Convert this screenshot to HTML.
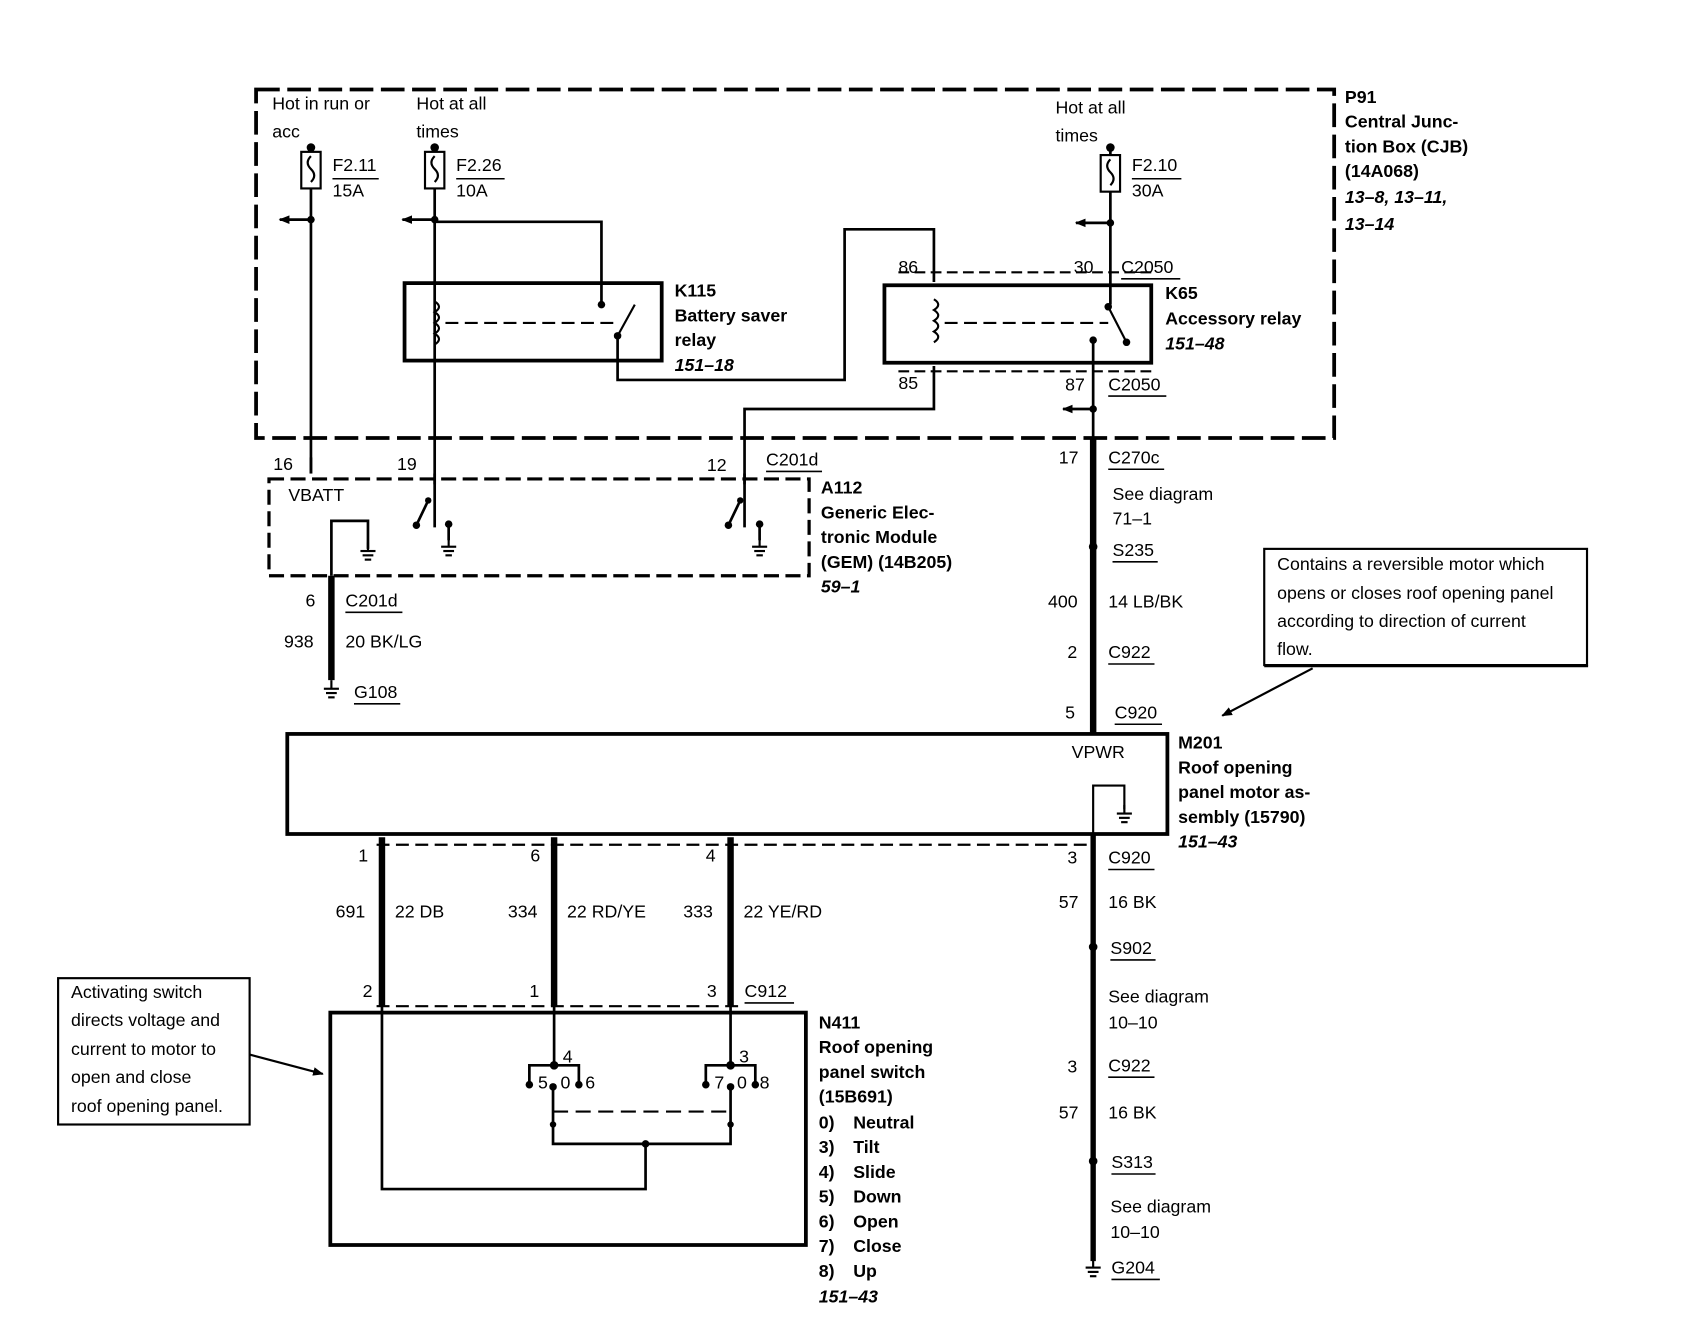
<!DOCTYPE html>
<html><head><meta charset="utf-8"><style>
html,body{margin:0;padding:0;background:#fff;}
svg{display:block;}
text{font-family:"Liberation Sans",Arial,sans-serif;font-size:16.5px;fill:#000;dominant-baseline:central;}
.b{font-weight:bold;}
.i{font-weight:bold;font-style:italic;}
</style></head><body>
<svg width="1686" height="1328" viewBox="0 0 1567 1234" xmlns="http://www.w3.org/2000/svg">
<defs>
<marker id="ah" markerWidth="10" markerHeight="10" refX="9" refY="5" orient="auto" markerUnits="userSpaceOnUse"><path d="M0,1 L10,5 L0,9 Z" fill="#000"/></marker>
<g id="gnd"><line x1="0" y1="-8" x2="0" y2="0" stroke="#000" stroke-width="2"/><line x1="-7" y1="0" x2="7" y2="0" stroke="#000" stroke-width="2"/><line x1="-5" y1="4" x2="5" y2="4" stroke="#000" stroke-width="2"/><line x1="-3" y1="8" x2="3" y2="8" stroke="#000" stroke-width="2"/></g>
</defs>
<g fill="none" stroke="#000">
<rect x="238" y="83" width="1002" height="324" stroke-width="3.5" stroke-dasharray="22,7"/>
<g stroke-width="2">
<rect x="280" y="141" width="18" height="34"/><path d="M289,145 q-6,6 0,12 q6,6 0,12"/>
<rect x="395" y="141" width="18" height="34"/><path d="M404,145 q-6,6 0,12 q6,6 0,12"/>
<rect x="1023" y="144" width="18" height="34"/><path d="M1032,148 q-6,6 0,12 q6,6 0,12"/>
</g>
<g stroke-width="2.5">
<line x1="289" y1="137" x2="289" y2="141"/><line x1="289" y1="175" x2="289" y2="440"/>
<line x1="289" y1="204" x2="260" y2="204" marker-end="url(#ah)"/>
<line x1="404" y1="137" x2="404" y2="141"/><line x1="404" y1="175" x2="404" y2="490"/>
<line x1="404" y1="204" x2="374" y2="204" marker-end="url(#ah)"/>
<polyline points="404,206 559,206 559,283"/>
<line x1="1032" y1="137" x2="1032" y2="144"/><line x1="1032" y1="178" x2="1032" y2="283"/>
<line x1="1032" y1="207" x2="1000" y2="207" marker-end="url(#ah)"/>
<polyline points="574,312 574,353 785,353 785,213 868,213 868,262"/>
<polyline points="868,340 868,380 692,380 692,490"/>
<line x1="1016" y1="316" x2="1016" y2="410"/>
<line x1="1016" y1="380" x2="988" y2="380" marker-end="url(#ah)"/>
<line x1="289" y1="425" x2="289" y2="440"/>
</g>
<rect x="376" y="263" width="239" height="72" stroke-width="3.5"/>
<rect x="822" y="265" width="248" height="72" stroke-width="3.5"/>
<g stroke-width="2">
<path d="M404,280 q8,5 0,10 q8,5 0,10 q8,5 0,10 q8,5 0,10"/>
<path d="M868,278 q8,5 0,10 q8,5 0,10 q8,5 0,10 q8,5 0,10"/>
<line x1="414" y1="300" x2="570" y2="300" stroke-dasharray="12,6"/>
<line x1="878" y1="300" x2="1030" y2="300" stroke-dasharray="12,6"/>
<line x1="574" y1="312" x2="590" y2="283"/>
<line x1="1030" y1="285" x2="1047" y2="318"/>
<line x1="835" y1="253" x2="1070" y2="253" stroke-dasharray="10,5"/>
<line x1="835" y1="345" x2="1070" y2="345" stroke-dasharray="10,5"/>
</g>
<rect x="250" y="445" width="502" height="90" stroke-width="3" stroke-dasharray="14,6"/>
<g stroke-width="2.5">
<line x1="404" y1="440" x2="404" y2="450"/>
<line x1="692" y1="440" x2="692" y2="450"/>
<line x1="398" y1="465" x2="387" y2="488"/>
<line x1="688" y1="465" x2="677" y2="488"/>
<polyline points="308,535 308,484 342,484 342,510"/>
<line x1="417" y1="487" x2="417" y2="502"/>
<line x1="706" y1="487" x2="706" y2="502"/>
</g>
<line x1="308" y1="535" x2="308" y2="632" stroke-width="6"/>
<line x1="1016" y1="407" x2="1016" y2="682" stroke-width="6"/>
<line x1="1016" y1="775" x2="1016" y2="1172" stroke-width="5"/>
<rect x="1175" y="510" width="300" height="108" stroke-width="2"/>
<line x1="1175" y1="619" x2="1476" y2="619" stroke-width="2"/>
<line x1="1220" y1="621" x2="1136" y2="665" stroke-width="2" marker-end="url(#ah)"/>
<rect x="267" y="682" width="818" height="93" stroke-width="3.5"/>
<polyline points="1016,775 1016,730 1045,730 1045,752" stroke-width="2"/>
<line x1="350" y1="785" x2="1016" y2="785" stroke-width="2" stroke-dasharray="12,6"/>
<line x1="355" y1="778" x2="355" y2="935" stroke-width="6"/>
<line x1="515" y1="778" x2="515" y2="935" stroke-width="6"/>
<line x1="679" y1="778" x2="679" y2="935" stroke-width="6"/>
<line x1="350" y1="935" x2="690" y2="935" stroke-width="2" stroke-dasharray="12,6"/>
<rect x="307" y="941" width="442" height="216" stroke-width="3.5"/>
<g stroke-width="2.5">
<polyline points="355,935 355,1105 600,1105 600,1063"/>
<line x1="515" y1="935" x2="515" y2="990"/>
<line x1="679" y1="935" x2="679" y2="990"/>
<polyline points="492,1008 492,990 538,990 538,1008"/>
<polyline points="656,1008 656,990 702,990 702,1008"/>
<polyline points="514,1012 514,1063 679,1063 679,1012"/>
<line x1="514" y1="1033" x2="679" y2="1033" stroke-dasharray="14,7" stroke-width="2"/>
</g>
<rect x="54" y="909" width="178" height="136" stroke-width="2"/>
<line x1="232" y1="980" x2="300" y2="998" stroke-width="2" marker-end="url(#ah)"/>
<g stroke-width="1.5">
<line x1="309" y1="166" x2="352" y2="166"/><line x1="424" y1="166" x2="469" y2="166"/><line x1="1052" y1="166" x2="1098" y2="166"/>
<line x1="1042" y1="259" x2="1097" y2="259"/><line x1="1030" y1="368" x2="1084" y2="368"/>
<line x1="712" y1="438" x2="764" y2="438"/><line x1="321" y1="569" x2="374" y2="569"/><line x1="329" y1="654" x2="372" y2="654"/>
<line x1="1030" y1="436" x2="1082" y2="436"/><line x1="1034" y1="522" x2="1076" y2="522"/><line x1="1030" y1="617" x2="1073" y2="617"/>
<line x1="1036" y1="673" x2="1080" y2="673"/><line x1="1030" y1="808" x2="1073" y2="808"/><line x1="1032" y1="892" x2="1074" y2="892"/>
<line x1="1030" y1="1001" x2="1073" y2="1001"/><line x1="1033" y1="1091" x2="1074" y2="1091"/><line x1="1033" y1="1189" x2="1078" y2="1189"/>
<line x1="692" y1="932" x2="738" y2="932"/>
</g>
</g>
<g fill="#000">
<circle cx="289" cy="137" r="4"/><circle cx="404" cy="137" r="4"/><circle cx="1032" cy="137" r="4"/>
<circle cx="289" cy="204" r="3.5"/><circle cx="404" cy="204" r="3.5"/><circle cx="1032" cy="207" r="3.5"/><circle cx="1016" cy="380" r="3.5"/>
<circle cx="559" cy="283" r="3.5"/><circle cx="574" cy="312" r="3.5"/><circle cx="1016" cy="316" r="3.5"/><circle cx="1047" cy="318" r="3.5"/><circle cx="1030" cy="285" r="3.5"/>
<circle cx="387" cy="488" r="3.5"/><circle cx="677" cy="488" r="3.5"/><circle cx="398" cy="465" r="3"/><circle cx="688" cy="465" r="3"/>
<circle cx="417" cy="487" r="3.5"/><circle cx="706" cy="487" r="3.5"/>
<circle cx="1016" cy="508" r="4"/><circle cx="1016" cy="880" r="4"/><circle cx="1016" cy="1079" r="4"/>
<circle cx="515" cy="990" r="4"/><circle cx="679" cy="990" r="4"/>
<circle cx="492" cy="1008" r="3.5"/><circle cx="514" cy="1010" r="3.5"/><circle cx="538" cy="1008" r="3.5"/>
<circle cx="656" cy="1008" r="3.5"/><circle cx="679" cy="1010" r="3.5"/><circle cx="702" cy="1008" r="3.5"/>
<circle cx="514" cy="1045" r="3"/><circle cx="679" cy="1045" r="3"/><circle cx="600" cy="1063" r="3.5"/>
</g>
<use href="#gnd" x="342" y="512"/><use href="#gnd" x="417" y="508"/><use href="#gnd" x="706" y="508"/>
<use href="#gnd" x="308" y="640"/><use href="#gnd" x="1045" y="756"/><use href="#gnd" x="1016" y="1178"/>
<text x="253" y="96">Hot in run or</text><text x="253" y="122">acc</text>
<text x="387" y="96">Hot at all</text><text x="387" y="122">times</text>
<text x="981" y="100">Hot at all</text><text x="981" y="126">times</text>
<text x="309" y="153">F2.11</text><text x="309" y="177">15A</text>
<text x="424" y="153">F2.26</text><text x="424" y="177">10A</text>
<text x="1052" y="153">F2.10</text><text x="1052" y="177">30A</text>
<text class="b" x="1250" y="90">P91</text><text class="b" x="1250" y="113">Central Junc-</text><text class="b" x="1250" y="136">tion Box (CJB)</text><text class="b" x="1250" y="159">(14A068)</text><text class="i" x="1250" y="183">13–8, 13–11,</text><text class="i" x="1250" y="208">13–14</text>
<text class="b" x="627" y="270">K115</text><text class="b" x="627" y="293">Battery saver</text><text class="b" x="627" y="316">relay</text><text class="i" x="627" y="339">151–18</text>
<text class="b" x="1083" y="272">K65</text><text class="b" x="1083" y="296">Accessory relay</text><text class="i" x="1083" y="319">151–48</text>
<text x="835" y="248">86</text><text x="835" y="356">85</text>
<text x="998" y="248">30</text><text x="1042" y="248">C2050</text>
<text x="990" y="357">87</text><text x="1030" y="357">C2050</text>
<text x="254" y="431">16</text><text x="369" y="431">19</text><text x="657" y="432">12</text><text x="712" y="427">C201d</text>
<text x="268" y="460">VBATT</text>
<text class="b" x="763" y="453">A112</text><text class="b" x="763" y="476">Generic Elec-</text><text class="b" x="763" y="499">tronic Module</text><text class="b" x="763" y="522">(GEM) (14B205)</text><text class="i" x="763" y="545">59–1</text>
<text x="284" y="558">6</text><text x="321" y="558">C201d</text><text x="264" y="596">938</text><text x="321" y="596">20 BK/LG</text><text x="329" y="643">G108</text>
<text x="984" y="425">17</text><text x="1030" y="425">C270c</text>
<text x="1034" y="459">See diagram</text><text x="1034" y="482">71–1</text><text x="1034" y="511">S235</text>
<text x="974" y="559">400</text><text x="1030" y="559">14 LB/BK</text>
<text x="992" y="606">2</text><text x="1030" y="606">C922</text>
<text x="990" y="662">5</text><text x="1036" y="662">C920</text>
<text x="1187" y="524">Contains a reversible motor which</text><text x="1187" y="551">opens or closes roof opening panel</text><text x="1187" y="577">according to direction of current</text><text x="1187" y="603">flow.</text>
<text x="996" y="699">VPWR</text>
<text class="b" x="1095" y="690">M201</text><text class="b" x="1095" y="713">Roof opening</text><text class="b" x="1095" y="736">panel motor as-</text><text class="b" x="1095" y="759">sembly (15790)</text><text class="i" x="1095" y="782">151–43</text>
<text x="333" y="795">1</text><text x="493" y="795">6</text><text x="656" y="795">4</text>
<text x="312" y="847">691</text><text x="367" y="847">22 DB</text><text x="472" y="847">334</text><text x="527" y="847">22 RD/YE</text><text x="635" y="847">333</text><text x="691" y="847">22 YE/RD</text>
<text x="337" y="921">2</text><text x="492" y="921">1</text><text x="657" y="921">3</text><text x="692" y="921">C912</text>
<text x="992" y="797">3</text><text x="1030" y="797">C920</text>
<text x="984" y="838">57</text><text x="1030" y="838">16 BK</text>
<text x="1032" y="881">S902</text><text x="1030" y="926">See diagram</text><text x="1030" y="950">10–10</text>
<text x="992" y="991">3</text><text x="1030" y="990">C922</text>
<text x="984" y="1034">57</text><text x="1030" y="1034">16 BK</text>
<text x="1033" y="1080">S313</text><text x="1032" y="1121">See diagram</text><text x="1032" y="1145">10–10</text>
<text x="1033" y="1178">G204</text>
<text x="523" y="982">4</text><text x="500" y="1006">5</text><text x="521" y="1006">0</text><text x="544" y="1006">6</text>
<text x="687" y="982">3</text><text x="664" y="1006">7</text><text x="685" y="1006">0</text><text x="706" y="1006">8</text>
<text class="b" x="761" y="950">N411</text><text class="b" x="761" y="973">Roof opening</text><text class="b" x="761" y="996">panel switch</text><text class="b" x="761" y="1019">(15B691)</text>
<text class="b" x="761" y="1043">0)</text><text class="b" x="793" y="1043">Neutral</text>
<text class="b" x="761" y="1066">3)</text><text class="b" x="793" y="1066">Tilt</text>
<text class="b" x="761" y="1089">4)</text><text class="b" x="793" y="1089">Slide</text>
<text class="b" x="761" y="1112">5)</text><text class="b" x="793" y="1112">Down</text>
<text class="b" x="761" y="1135">6)</text><text class="b" x="793" y="1135">Open</text>
<text class="b" x="761" y="1158">7)</text><text class="b" x="793" y="1158">Close</text>
<text class="b" x="761" y="1181">8)</text><text class="b" x="793" y="1181">Up</text>
<text class="i" x="761" y="1205">151–43</text>
<text x="66" y="922">Activating switch</text><text x="66" y="948">directs voltage and</text><text x="66" y="975">current to motor to</text><text x="66" y="1001">open and close</text><text x="66" y="1028">roof opening panel.</text>
</svg>
</body></html>
